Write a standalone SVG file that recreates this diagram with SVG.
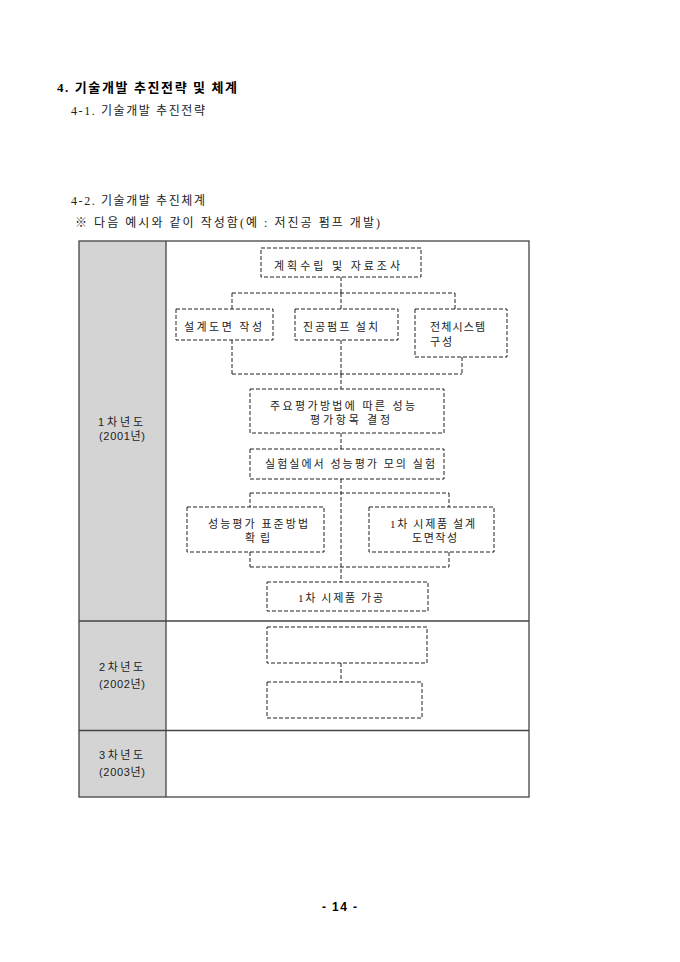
<svg xmlns="http://www.w3.org/2000/svg" width="680" height="962" viewBox="0 0 680 962">
<style>
.bg{fill:#ffffff}
.h{font-family:"Liberation Serif","Noto Sans CJK KR",serif;font-size:13px;font-weight:bold;fill:#000}
.s{font-family:"Liberation Serif","Noto Sans CJK KR",serif;font-size:12px;fill:#222}
.t{font-family:"Liberation Serif","Noto Sans CJK KR",serif;font-size:11px;fill:#222}
.y{font-family:"Liberation Sans","Noto Sans CJK KR",sans-serif;font-size:11px;fill:#222}
.pg{font-family:"Liberation Sans","Noto Sans CJK KR",sans-serif;font-size:12px;font-weight:bold;fill:#000}
.box{fill:none;stroke:#222;stroke-width:1;stroke-dasharray:4 2}
.con line{stroke:#222;stroke-width:1;stroke-dasharray:4 2}
.grid{stroke:#444;stroke-width:1.3}
</style>
<rect class="bg" x="0" y="0" width="680" height="962"/>

<g id="headings">
<text class="h" x="57" y="92" textLength="180" lengthAdjust="spacing">4. 기술개발 추진전략 및 체계</text>
<text class="s" x="71" y="115" textLength="134" lengthAdjust="spacing">4-1. 기술개발 추진전략</text>
<text class="s" x="71" y="205" textLength="134" lengthAdjust="spacing">4-2. 기술개발 추진체계</text>
<text class="s" x="75" y="227" textLength="305" lengthAdjust="spacing">※ 다음 예시와 같이 작성함(예 : 저진공 펌프 개발)</text>
</g>

<g id="table">
<rect x="79" y="241" width="87" height="556" fill="#d4d4d4"/>
<rect x="79" y="241" width="450" height="556" fill="none" class="grid"/>
<line class="grid" x1="166" y1="241" x2="166" y2="797" stroke="#666"/>
<line class="grid" x1="79" y1="621" x2="529" y2="621"/>
<line class="grid" x1="79" y1="730.5" x2="529" y2="730.5"/>
</g>

<g id="year1">
<text class="y" x="98" y="426" textLength="45" lengthAdjust="spacing">1차년도</text>
<text class="y" x="99" y="440" textLength="46" lengthAdjust="spacing">(2001년)</text>
</g>
<g id="year2">
<text class="y" x="99" y="671" textLength="44" lengthAdjust="spacing">2차년도</text>
<text class="y" x="99" y="688" textLength="46" lengthAdjust="spacing">(2002년)</text>
</g>
<g id="year3">
<text class="y" x="99" y="759" textLength="44" lengthAdjust="spacing">3차년도</text>
<text class="y" x="99" y="776" textLength="46" lengthAdjust="spacing">(2003년)</text>
</g>

<g id="connectors" class="con">
<line x1="341" y1="277" x2="341" y2="293"/>
<line x1="232" y1="293" x2="455" y2="293"/>
<line x1="232" y1="293" x2="232" y2="309"/>
<line x1="341" y1="293" x2="341" y2="309"/>
<line x1="455" y1="293" x2="455" y2="309"/>
<line x1="232" y1="340" x2="232" y2="374"/>
<line x1="341" y1="340" x2="341" y2="374"/>
<line x1="462" y1="357" x2="462" y2="374"/>
<line x1="232" y1="374" x2="462" y2="374"/>
<line x1="341" y1="374" x2="341" y2="389"/>
<line x1="341" y1="433" x2="341" y2="449"/>
<line x1="341" y1="479" x2="341" y2="582"/>
<line x1="250" y1="493" x2="449" y2="493"/>
<line x1="250" y1="493" x2="250" y2="507"/>
<line x1="449" y1="493" x2="449" y2="507"/>
<line x1="250" y1="552" x2="250" y2="567"/>
<line x1="449" y1="552" x2="449" y2="567"/>
<line x1="250" y1="567" x2="449" y2="567"/>
<line x1="341" y1="663" x2="341" y2="682"/>
</g>

<g id="n1">
<rect class="box" x="261" y="248" width="160" height="29"/>
<text class="t" x="274" y="270" textLength="126" lengthAdjust="spacing">계획수립 및 자료조사</text>
</g>
<g id="n2">
<rect class="box" x="176" y="309" width="97" height="31"/>
<text class="t" x="184" y="331" textLength="78" lengthAdjust="spacing">설계도면 작성</text>
</g>
<g id="n3">
<rect class="box" x="295" y="309" width="103" height="31"/>
<text class="t" x="303" y="331" textLength="75" lengthAdjust="spacing">진공펌프 설치</text>
</g>
<g id="n4">
<rect class="box" x="415" y="309" width="92" height="48"/>
<text class="t" x="430" y="331" textLength="55" lengthAdjust="spacing">전체시스템</text>
<text class="t" x="430" y="346" textLength="22" lengthAdjust="spacing">구성</text>
</g>
<g id="n5">
<rect class="box" x="250" y="389" width="194" height="44"/>
<text class="t" x="270" y="410" textLength="145" lengthAdjust="spacing">주요평가방법에 따른 성능</text>
<text class="t" x="310" y="424" textLength="80" lengthAdjust="spacing">평가항목 결정</text>
</g>
<g id="n6">
<rect class="box" x="250" y="449" width="194" height="30"/>
<text class="t" x="265" y="468" textLength="170" lengthAdjust="spacing">실험실에서 성능평가 모의  실험</text>
</g>
<g id="n7">
<rect class="box" x="187" y="507" width="137" height="45"/>
<text class="t" x="208" y="528" textLength="100" lengthAdjust="spacing">성능평가 표준방법</text>
<text class="t" x="245" y="542" textLength="25" lengthAdjust="spacing">확립</text>
</g>
<g id="n8">
<rect class="box" x="369" y="507" width="125" height="45"/>
<text class="t" x="390" y="528" textLength="85" lengthAdjust="spacing">1차 시제품 설계</text>
<text class="t" x="412" y="542" textLength="45" lengthAdjust="spacing">도면작성</text>
</g>
<g id="n9">
<rect class="box" x="267" y="582" width="161" height="29"/>
<text class="t" x="298" y="602" textLength="85" lengthAdjust="spacing">1차 시제품 가공</text>
</g>
<g id="n10">
<rect class="box" x="267" y="627" width="160" height="36"/>
</g>
<g id="n11">
<rect class="box" x="267" y="682" width="155" height="36"/>
</g>

<g id="page">
<text class="pg" x="322" y="911" textLength="35" lengthAdjust="spacing">- 14 -</text>
</g>
</svg>
